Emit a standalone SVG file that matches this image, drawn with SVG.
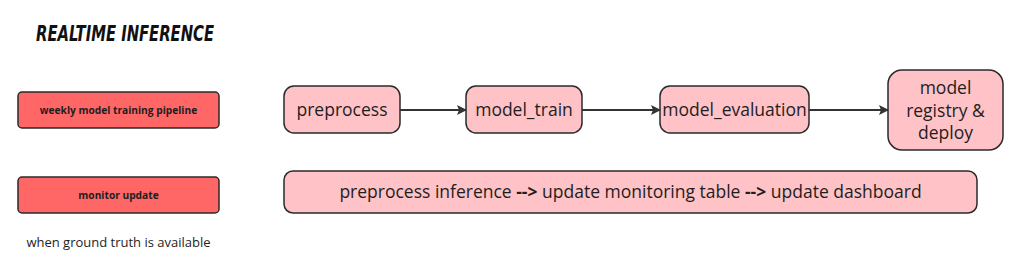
<svg xmlns="http://www.w3.org/2000/svg" width="1024" height="275" viewBox="0 0 1024 275">
<style>
.lbl{fill:#ff6666;stroke:#2a2a2a;stroke-width:1.5}
.pk{fill:#ffc2c6;stroke:#2a2a2a;stroke-width:1.5}
.t{font-family:"Open Sans","Liberation Sans",sans-serif;fill:#1e1e1e;text-anchor:middle}
.s{font-size:17.5px}
.b{font-size:10.2px;font-weight:bold}
.e{stroke:#333;stroke-width:2;fill:none;marker-end:url(#ah)}
</style>
<defs>
<marker id="ah" markerWidth="10" markerHeight="10" refX="9" refY="5" orient="auto" markerUnits="userSpaceOnUse">
<path d="M0,0 L10,5 L0,10 L2,5 Z" fill="#333"/>
</marker>
</defs>
<rect width="1024" height="275" fill="#fff"/>
<g id="title"><text x="36" y="41" font-family="'DejaVu Sans Condensed','DejaVu Sans',sans-serif" font-size="22" font-weight="bold" font-style="italic" textLength="178" lengthAdjust="spacingAndGlyphs" fill="#111">REALTIME INFERENCE</text></g>
<g id="weekly"><rect class="lbl" x="18" y="92" width="201" height="36" rx="4"/><text class="t b" x="118.5" y="114">weekly model training pipeline</text></g>
<g id="monitor"><rect class="lbl" x="18" y="177" width="201" height="36" rx="4"/><text class="t b" x="118.5" y="199">monitor update</text></g>
<g id="note"><text class="t" x="118.5" y="247" font-size="13">when ground truth is available</text></g>
<g id="preprocess"><rect class="pk" x="284" y="86" width="116" height="47" rx="10"/><text class="t s" x="342" y="116">preprocess</text></g>
<g id="model_train"><rect class="pk" x="466" y="86" width="116" height="47" rx="10"/><text class="t s" x="524" y="116">model_train</text></g>
<g id="model_evaluation"><rect class="pk" x="660" y="86" width="149" height="47" rx="10"/><text class="t s" x="734.5" y="116">model_evaluation</text></g>
<g id="registry"><rect class="pk" x="888" y="70" width="115" height="80" rx="14"/><text class="t s" x="945.5" y="94">model</text><text class="t s" x="945.5" y="116.5">registry &amp;</text><text class="t s" x="945.5" y="139">deploy</text></g>
<g id="monitor_flow"><rect class="pk" x="284" y="171" width="693" height="42" rx="9"/><text class="t s" x="630.5" y="198">preprocess inference <tspan font-weight="bold">--&gt;</tspan> update monitoring table <tspan font-weight="bold">--&gt;</tspan> update dashboard</text></g>
<g id="connectors">
<line class="e" x1="400" y1="110" x2="466" y2="110"/>
<line class="e" x1="582" y1="110" x2="660" y2="110"/>
<line class="e" x1="809" y1="110" x2="888" y2="110"/>
</g>
</svg>
